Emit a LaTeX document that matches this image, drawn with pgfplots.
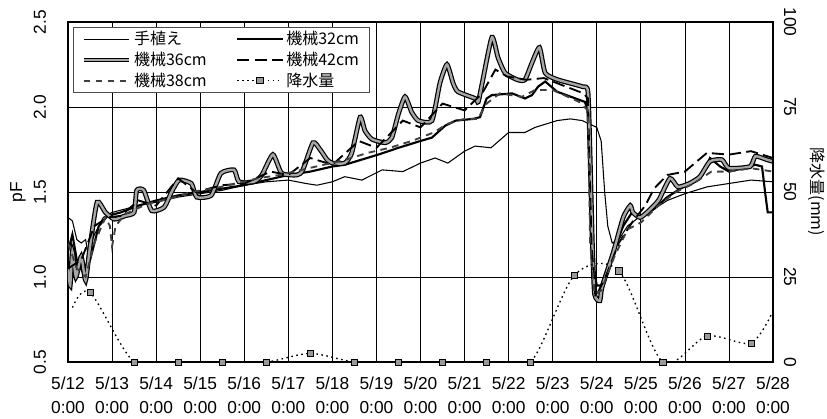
\documentclass[border=0pt]{standalone}
\usepackage{fontspec}
\setmainfont{Liberation Sans}
\newfontfamily\jp{Noto Sans CJK JP}
\usepackage{pgfplots}
\pgfplotsset{compat=1.18}

\begin{document}
\begin{tikzpicture}[font=\fontsize{13}{15}\selectfont]
\begin{axis}[
  scale only axis, width=528.75pt, height=255pt,
  xmin=0, xmax=16, ymin=0.5, ymax=2.5,
  xtick={0,...,16}, ytick={0.5,1,...,2.5},
  xticklabels={{5/12\\0:00},{5/13\\0:00},{5/14\\0:00},{5/15\\0:00},{5/16\\0:00},{5/17\\0:00},{5/18\\0:00},{5/19\\0:00},{5/20\\0:00},{5/21\\0:00},{5/22\\0:00},{5/23\\0:00},{5/24\\0:00},{5/25\\0:00},{5/26\\0:00},{5/27\\0:00},{5/28\\0:00}},
  xticklabel style={align=center, anchor=center, yshift=-24.75pt, font=\fontsize{13}{18}\selectfont},
  yticklabel style={xshift=-21pt, rotate=90, anchor=center, font=\fontsize{13}{15}\selectfont,
    /pgf/number format/.cd, fixed, fixed zerofill, precision=1},
  /pgf/number format/assume math mode=true,
  ytick pos=left, xtick pos=bottom,
  tick style={draw=none},
  grid=major, major grid style={black, line width=0.5pt},
  axis line style={line width=1.1pt},
  every axis y label/.style={at={(rel axis cs:0,0.5)}, xshift=-37.5pt, rotate=90, anchor=center},
  ylabel={pF},
  legend columns=2,
  legend cell align=left,
  legend image code/.code={\draw[mark repeat=2, mark phase=2, #1] plot coordinates {(0pt,0pt) (17pt,0pt) (34pt,0pt)};},
  legend style={at={(rel axis cs:0.007,0.985)}, anchor=north west, draw=black!70, line width=0.5pt,
    font=\jp\fontsize{12}{14}\selectfont, inner xsep=6pt, inner ysep=1pt,
    /tikz/every even column/.append style={column sep=20pt}},
]
\coordinate (sw) at (rel axis cs:0,0);
\coordinate (ne) at (rel axis cs:1,1);

% 手植え
\addplot[black, line width=0.8pt] coordinates {
(0,1.35)(0.1,1.33)(0.2,1.22)(0.3,1.2)(0.4,1.22)(0.45,1.14)(0.6,1.25)(0.8,1.35)(1.0,1.38)(1.3,1.40)(1.6,1.42)(2.0,1.44)(2.5,1.47)(3.0,1.49)(3.5,1.51)(4.0,1.54)(4.5,1.56)(5.0,1.57)(5.4,1.55)(5.65,1.54)(6.0,1.56)(6.28,1.59)(6.67,1.57)(7.13,1.63)(7.6,1.62)(8.0,1.67)(8.33,1.70)(8.62,1.67)(9.0,1.74)(9.24,1.77)(9.6,1.76)(10.0,1.85)(10.37,1.85)(10.6,1.88)(11.1,1.92)(11.4,1.93)(11.67,1.92)(12.0,1.88)(12.1,1.80)(12.18,1.5)(12.25,1.3)(12.35,1.2)(12.5,1.22)(12.7,1.3)(13.0,1.36)(13.3,1.40)(13.6,1.45)(14.0,1.49)(14.5,1.53)(15.0,1.55)(15.5,1.57)(16.0,1.56)
};
\addlegendentry{手植え}

% 機械32cm
\addplot[black, line width=1.6pt] coordinates {
(0,1.15)(0.1,1.25)(0.2,1.1)(0.35,1.02)(0.5,1.1)(0.7,1.3)(0.9,1.36)(1.2,1.38)(1.6,1.42)(2.0,1.45)(2.5,1.48)(3.0,1.5)(3.5,1.52)(4.0,1.54)(4.5,1.57)(5.0,1.6)(5.5,1.62)(6.0,1.65)(6.28,1.66)(7.04,1.72)(7.5,1.76)(8.0,1.80)(8.26,1.82)(8.56,1.89)(8.8,1.92)(9.2,1.93)(9.35,1.94)(9.5,2.05)(9.62,2.07)(10.08,2.08)(10.37,2.05)(10.53,2.07)(10.67,2.12)(10.83,2.15)(11.1,2.09)(11.73,2.03)(11.8,1.98)(11.85,1.6)(11.9,1.1)(12.0,0.95)(12.1,0.95)(12.3,1.1)(12.6,1.3)(12.8,1.38)(13.0,1.35)(13.3,1.4)(13.6,1.47)(13.9,1.52)(14.2,1.56)(14.4,1.6)(14.57,1.70)(14.8,1.65)(15.0,1.62)(15.3,1.64)(15.6,1.66)(15.75,1.65)(15.82,1.5)(15.88,1.38)(16.0,1.38)
};
\addlegendentry{機械32cm}

% 機械36cm
\addplot[draw=black, line width=0.9pt, double=gray!70, double distance=1.8pt, smooth, tension=0.35] coordinates {
(0.0,1.05)(0.05,0.95)(0.1,1.15)(0.18,1.0)(0.3,1.12)(0.4,0.98)(0.5,1.18)(0.66,1.44)(0.85,1.38)(1.05,1.34)(1.3,1.36)(1.5,1.38)(1.56,1.51)(1.72,1.51)(1.9,1.39)(2.18,1.41)(2.35,1.5)(2.52,1.57)(2.8,1.55)(2.92,1.47)(3.25,1.48)(3.47,1.61)(3.77,1.63)(3.88,1.56)(4.22,1.56)(4.4,1.6)(4.65,1.72)(4.85,1.61)(5.2,1.6)(5.33,1.63)(5.56,1.79)(5.72,1.75)(5.88,1.69)(6.0,1.67)(6.28,1.67)(6.44,1.73)(6.63,1.94)(6.74,1.86)(6.9,1.81)(7.2,1.79)(7.35,1.82)(7.5,1.96)(7.65,2.06)(7.8,1.97)(7.95,1.92)(8.26,1.92)(8.44,2.14)(8.6,2.25)(8.74,2.14)(8.85,2.09)(9.24,2.05)(9.31,2.03)(9.4,2.14)(9.62,2.41)(9.76,2.29)(9.92,2.2)(10.2,2.16)(10.37,2.16)(10.53,2.26)(10.7,2.35)(10.83,2.2)(11.12,2.16)(11.67,2.12)(11.8,2.09)(11.85,1.7)(11.9,1.2)(11.95,0.9)(12.07,0.86)(12.12,0.94)(12.37,1.14)(12.6,1.35)(12.76,1.42)(12.82,1.38)(12.98,1.35)(13.14,1.38)(13.4,1.45)(13.66,1.58)(13.84,1.53)(14.1,1.55)(14.34,1.59)(14.57,1.68)(14.84,1.69)(15.0,1.64)(15.48,1.65)(15.6,1.71)(15.86,1.69)(16.0,1.68)
};
\addlegendentry{機械36cm}

% 機械42cm
\addplot[black, line width=1.4pt, dash pattern=on 9pt off 4pt] coordinates {
(0,1.05)(0.3,1.1)(0.6,1.3)(0.9,1.35)(1.2,1.36)(1.6,1.45)(2.0,1.42)(2.5,1.58)(2.9,1.5)(3.5,1.54)(4.0,1.55)(4.6,1.62)(5.0,1.6)(5.5,1.7)(6.0,1.66)(6.6,1.8)(7.0,1.76)(7.6,1.92)(8.0,1.88)(8.5,2.02)(9.0,1.98)(9.4,2.08)(9.7,2.22)(9.96,2.18)(10.4,2.16)(10.8,2.17)(11.2,2.13)(11.7,2.08)(11.8,2.05)(11.88,1.2)(11.97,0.88)(12.2,1.0)(12.5,1.2)(12.8,1.32)(13.1,1.42)(13.3,1.52)(13.6,1.6)(14.0,1.62)(14.5,1.73)(15.0,1.72)(15.5,1.74)(16,1.70)
};
\addlegendentry{機械42cm}

% 機械38cm
\addplot[black!75, line width=1.4pt, dash pattern=on 5pt off 4pt] coordinates {
(0,1.2)(0.2,1.05)(0.4,1.0)(0.6,1.2)(0.85,1.35)(0.95,1.3)(1.0,1.18)(1.08,1.3)(1.3,1.37)(1.8,1.43)(2.3,1.46)(2.8,1.5)(3.3,1.52)(3.8,1.55)(4.3,1.58)(4.8,1.6)(5.3,1.63)(5.8,1.66)(6.3,1.69)(6.8,1.73)(7.3,1.76)(7.8,1.8)(8.3,1.85)(8.6,1.9)(9.0,1.93)(9.3,1.93)(9.5,2.02)(9.8,2.08)(10.3,2.06)(10.6,2.1)(11.0,2.1)(11.6,2.03)(11.8,1.98)(11.85,1.2)(11.95,0.9)(12.1,0.92)(12.4,1.12)(12.7,1.28)(13.0,1.32)(13.4,1.42)(13.8,1.5)(14.2,1.55)(14.6,1.62)(15.0,1.62)(15.5,1.64)(16.0,1.62)
};
\addlegendentry{機械38cm}

\addlegendimage{black, dash pattern=on 1.2pt off 2.6pt, line width=1pt, mark=square*, mark size=2.3pt, mark options={solid, fill=gray!80, draw=black, line width=0.5pt}}
\addlegendentry{降水量}
\end{axis}

\begin{axis}[
  scale only axis, width=528.75pt, height=255pt,
  xmin=0, xmax=16, ymin=0, ymax=100,
  axis x line=none, axis y line*=right,
  ytick={0,25,...,100},
  tick style={draw=none},
  axis line style={line width=1.1pt},
  yticklabel style={xshift=12.75pt, rotate=-90, anchor=center, font=\fontsize{13}{15}\selectfont},
  /pgf/number format/assume math mode=true,
  every axis y label/.style={at={(rel axis cs:1,0.5)}, xshift=33pt, rotate=-90, anchor=center},
  ylabel={\jp\fontsize{12}{14}\selectfont 降水量(mm)},
]
\addplot[black, smooth, dash pattern=on 1.2pt off 2.6pt, line width=1pt, mark=square*, mark size=2.3pt,
  mark options={solid, fill=gray!80, draw=black, line width=0.5pt}, mark indices={2,...,17}] coordinates {
(0.1,16)(0.5,20.5)(1.5,0)(2.5,0)(3.5,0)(4.5,0)(5.5,2.5)(6.5,0)(7.5,0)(8.5,0)(9.5,0)(10.5,0)(11.5,25.6)(12.5,26.8)(13.5,0)(14.5,7.6)(15.5,5.6)(16,15)
};
\end{axis}
\pgfresetboundingbox
\path ([shift={(-51pt,-42.75pt)}]sw) rectangle ([shift={(40.5pt,16.5pt)}]ne);
\end{tikzpicture}
\end{document}
